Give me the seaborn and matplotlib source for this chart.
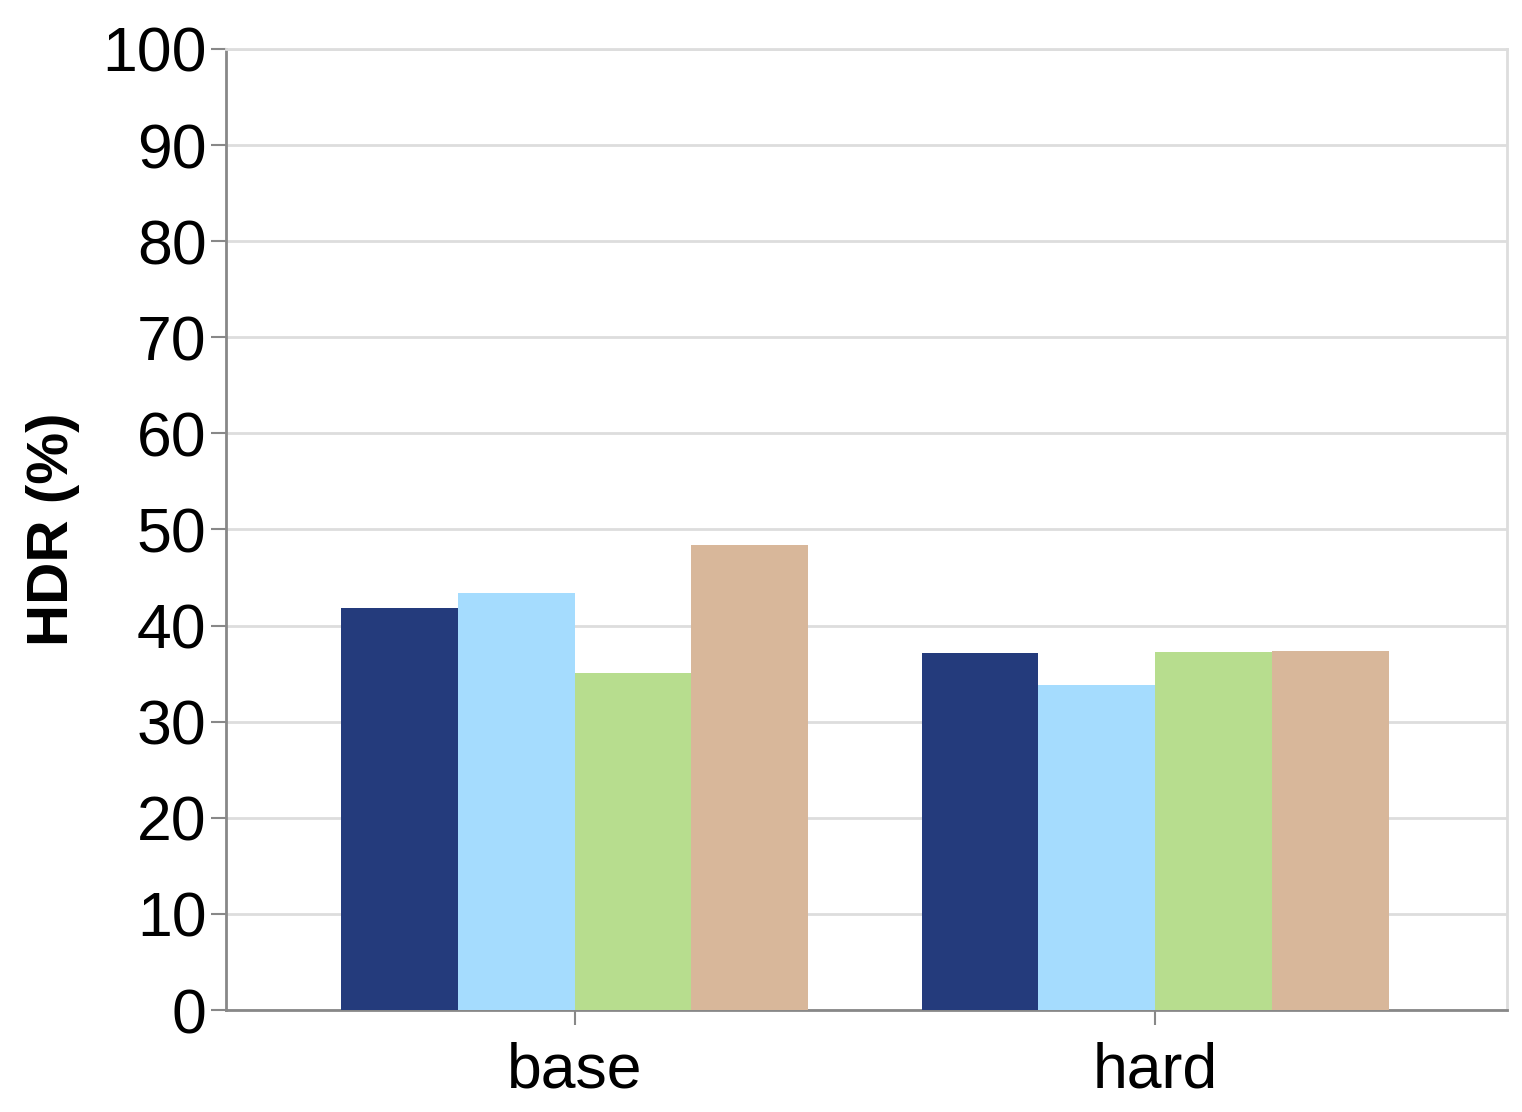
import seaborn as sns
import matplotlib.pyplot as plt
import pandas as pd

# HDR values per setting
settings = ['base', 'hard']
series = ['A', 'B', 'C', 'D']
hdr_a = [41.8, 37.1]
hdr_b = [43.4, 33.8]
hdr_c = [35.1, 37.2]
hdr_d = [48.4, 37.4]
colors = ['#243b7c', '#a5dcfe', '#b7dd8e', '#d8b79a']

rows = []
for name, vals in zip(series, [hdr_a, hdr_b, hdr_c, hdr_d]):
    for s, v in zip(settings, vals):
        rows.append({'setting': s, 'series': name, 'hdr': v})
df = pd.DataFrame(rows)

sns.set_style('white')
plt.rcParams['font.family'] = ['Liberation Sans', 'DejaVu Sans']
plt.rcParams['text.color'] = 'black'
plt.rcParams['xtick.labelcolor'] = 'black'
plt.rcParams['ytick.labelcolor'] = 'black'
plt.rcParams['axes.labelcolor'] = 'black'

fig = plt.figure(figsize=(15.22, 11.12), dpi=100)
ax = fig.add_axes([0.1485, 0.0917, 0.8415, 0.8643])

sns.barplot(data=df, x='setting', y='hdr', hue='series', palette=colors,
            width=0.805, saturation=1, ax=ax, legend=False, zorder=3,
            linewidth=0)

ax.set_ylim(0, 100)
ax.set_xlim(-0.6, 1.605)
ax.set_yticks(range(0, 101, 10))
ax.yaxis.grid(True, color='#dddddd', linewidth=2, zorder=0)
ax.set_axisbelow(True)

for side in ['top', 'right']:
    ax.spines[side].set_color('#dddddd')
    ax.spines[side].set_linewidth(2)
for side in ['left', 'bottom']:
    ax.spines[side].set_color('#888888')
    ax.spines[side].set_linewidth(2)

ax.tick_params(axis='both', which='major', labelsize=45, length=11, width=1.5,
               color='#888888', pad=3, left=True, bottom=True,
               labelcolor='black')
ax.tick_params(axis='x', pad=12)
ax.set_xlabel('')
ax.set_ylabel('HDR (%)', fontsize=42, fontweight='bold', labelpad=16,
              color='black')

plt.savefig('out.png', dpi=100)
